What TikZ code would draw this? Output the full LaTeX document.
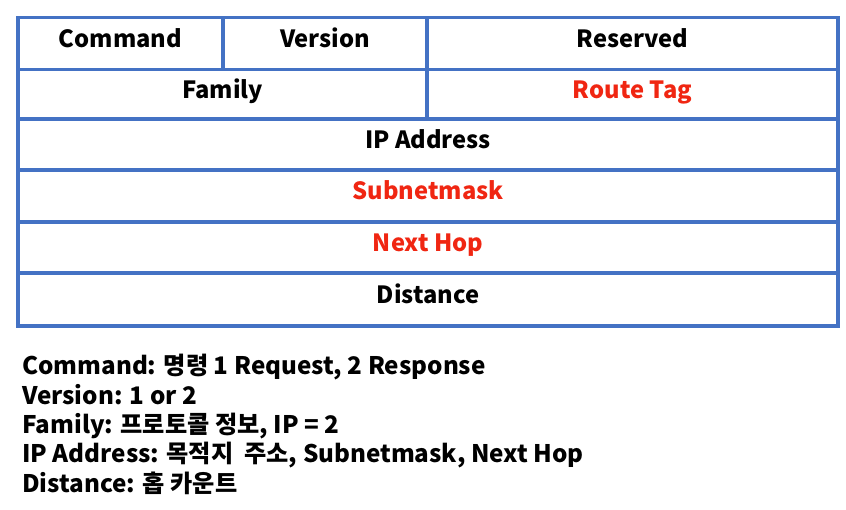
\documentclass[tikz,border=0pt]{standalone}
\usepackage{fontspec}
\setmainfont{Noto Sans CJK KR}
\definecolor{cellblue}{RGB}{68,114,196}
\definecolor{fieldred}{RGB}{240,38,18}
\begin{document}
\begin{tikzpicture}[x=1pt,y=-1pt,
  cell/.style={draw=cellblue, line width=3.5pt, inner sep=0pt, text height=14pt, text depth=6pt, font=\fontsize{23.7}{28}\selectfont\bfseries, text=black},
  redtext/.style={text=fieldred},
  notes/.style={font=\fontsize{24.2}{29.3}\selectfont\bfseries, align=left, inner sep=0pt, anchor=base west}]
\useasboundingbox[fill=white] (0,0) rectangle (846,510);
% row 1
\node[cell, minimum width=205pt, minimum height=52pt] (cmd) at (120.5,43.5) {Command};
\node[cell, minimum width=204pt, minimum height=52pt] (ver) at (325,43.5) {Version};
\node[cell, minimum width=411pt, minimum height=52pt] (res) at (632.5,43.5) {Reserved};
% row 2
\node[cell, minimum width=409pt, minimum height=50pt] (fam) at (222.5,94.5) {Family};
\node[cell, redtext, minimum width=411pt, minimum height=50pt] (tag) at (632.5,94.5) {Route Tag};
% rows 3-6
\node[cell, minimum width=820pt, minimum height=51pt] (ip) at (428,144.5) {IP Address};
\node[cell, redtext, minimum width=820pt, minimum height=52pt] (mask) at (428,196) {Subnetmask};
\node[cell, redtext, minimum width=820pt, minimum height=51pt] (hop) at (428,247.5) {Next Hop};
\node[cell, minimum width=820pt, minimum height=53pt] (dist) at (428,299.5) {Distance};
% notes (anchor = baseline of last line)
\node[notes] (legend) at (22,492) {Command: 명령 1 Request, 2 Response\\
Version: 1 or 2\\
Family: 프로토콜 정보, IP = 2\\
IP Address: 목적지~ 주소, Subnetmask, Next Hop\\
Distance: 홉 카운트};
\end{tikzpicture}
\end{document}
